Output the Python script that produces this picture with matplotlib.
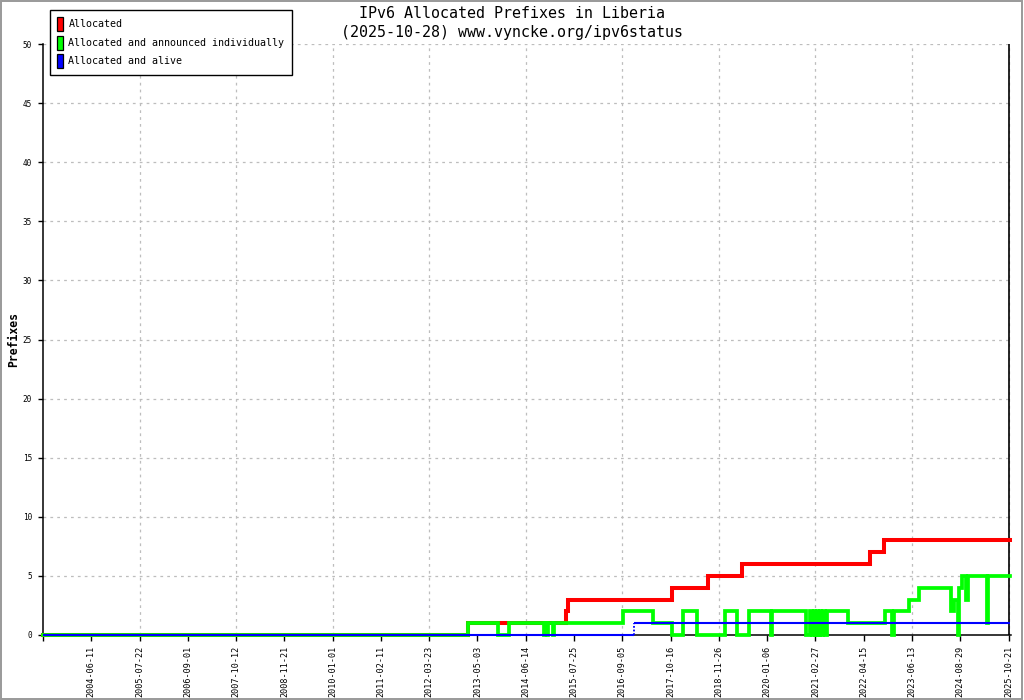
import matplotlib
matplotlib.use("Agg")
import matplotlib.pyplot as plt
from matplotlib.patches import Patch, Rectangle
import numpy as np

# ---- data (x in tick-position units: 0 = first tick, 20 = 2025-10-21) ----
tick_labels = ['', '2004-06-11', '2005-07-22', '2006-09-01', '2007-10-12', '2008-11-21',
               '2010-01-01', '2011-02-11', '2012-03-23', '2013-05-03', '2014-06-14',
               '2015-07-25', '2016-09-05', '2017-10-16', '2018-11-26', '2020-01-06',
               '2021-02-27', '2022-04-15', '2023-06-13', '2024-08-29', '2025-10-21']

alloc_x = [0, 8.804, 10.834, 10.865, 13.030, 13.775, 14.480, 17.131, 17.431, 20.03]
alloc_y = [0, 1, 2, 3, 4, 5, 6, 7, 8, 8]

announced_x = [0, 8.804, 9.431, 9.659, 10.384, 10.405, 10.430, 10.451, 10.558, 10.579,
               12.015, 12.636, 13.030, 13.257, 13.547, 14.127, 14.376, 14.625, 15.070, 15.095,
               15.795, 15.898, 15.930, 15.961, 16.002, 16.033, 16.064, 16.095, 16.126, 16.157,
               16.199, 16.230, 16.665, 17.442, 17.597, 17.628, 17.939, 18.146, 18.803, 18.871,
               18.954, 18.975, 19.037, 19.120, 19.161, 19.555, 19.575, 20.03]
announced_y = [0, 1, 0, 1, 0, 1, 0, 1, 0, 1,
               2, 1, 0, 2, 0, 2, 0, 2, 0, 2,
               0, 2, 0, 2, 0, 2, 0, 2, 0, 2,
               0, 2, 1, 2, 0, 2, 3, 4, 2, 3,
               0, 4, 5, 3, 5, 1, 5, 5]

alive_x = [0, 12.233, 20.03]
alive_y = [0, 1, 1]

legend_labels = ['Allocated', 'Allocated and announced individually', 'Allocated and alive']
colors = ['#ff0000', '#00ff00', '#0000ff']

title1 = 'IPv6 Allocated Prefixes in Liberia'
title2 = '(2025-10-28) www.vyncke.org/ipv6status'

MONO = 'DejaVu Sans Mono'

W, H = 1024, 700
fig = plt.figure(figsize=(W / 100, H / 100), dpi=100)
fig.patch.set_facecolor('white')

# axes placement (pixels)
x0_px, x20_px, y0_px, y50_px = 43, 1008.5, 635, 44
xmax = 20.05
ppu = (x20_px - x0_px) / 20
ax = fig.add_axes([x0_px / W, 1 - y0_px / H, xmax * ppu / W, (y0_px - y50_px) / H])
ax.set_xlim(0, xmax)
ax.set_ylim(0, 50)
ax.set_facecolor('white')

for s in ['top', 'right']:
    ax.spines[s].set_visible(False)
for s in ['left', 'bottom']:
    ax.spines[s].set_color('black')
    ax.spines[s].set_linewidth(1.1)

# grid
gridkw = dict(color='#bdbdbd', linewidth=0.9, linestyle=(0, (2.2, 3.3)), zorder=0.5)
yt = np.arange(0, 55, 5)
for v in yt[1:]:
    ax.axhline(v, xmin=0, xmax=20 / xmax, **gridkw)
for k in range(2, 21, 2):
    ax.axvline(k, **gridkw)
ax.axvline(20, color='black', linewidth=1.2, zorder=0.6)

# ticks
ax.set_yticks(yt)
ax.set_yticklabels([str(v) for v in yt], fontfamily=MONO, fontsize=5.6)
ax.tick_params(axis='y', direction='out', length=3.8, width=1, pad=4.2, colors='black')
ax.set_xticks(np.arange(0, 21))
ax.set_xticklabels(tick_labels, rotation=90, fontfamily=MONO, fontsize=6.1, va='top', ha='center')
ax.tick_params(axis='x', direction='out', length=4.5, width=1, pad=3, colors='black')

ax.set_ylabel('Prefixes', fontfamily=MONO, fontsize=8.3, fontweight='bold')
ax.yaxis.set_label_coords(-(x0_px - 20.5) / (xmax * ppu), 0.5)

# data
ax.step(alloc_x, alloc_y, where='post', color=colors[0], linewidth=2.9, zorder=3,
        clip_on=False, solid_joinstyle='miter')
ax.step(announced_x, announced_y, where='post', color=colors[1], linewidth=2.7, zorder=4,
        clip_on=False, solid_joinstyle='miter')
ax.hlines(alive_y[:-1], alive_x[:-1], alive_x[1:], color=colors[2], linewidth=1.5, zorder=5,
          clip_on=False)
ax.vlines(alive_x[1], alive_y[0], alive_y[1], color=colors[2], linewidth=1.3,
          linestyles=(0, (1, 1)), zorder=5, clip_on=False)

# titles
fig.text(512 / W, 1 - 13 / H, title1, ha='center', va='center', fontfamily=MONO, fontsize=10.8)
fig.text(512 / W, 1 - 32 / H, title2, ha='center', va='center', fontfamily=MONO, fontsize=10.8)

# legend
handles = [Patch(facecolor=c, edgecolor='black', linewidth=0.9) for c in colors]
leg = fig.legend(handles, legend_labels, loc='upper left',
                 bbox_to_anchor=(50 / W, 1 - 10 / H), bbox_transform=fig.transFigure,
                 borderaxespad=0, prop={'family': MONO, 'size': 7.2},
                 handlelength=0.6, handleheight=1.78, handletextpad=0.55,
                 labelspacing=0.45, borderpad=0.7, fancybox=False, frameon=True,
                 framealpha=1, edgecolor='black')
leg.get_frame().set_linewidth(1.0)

# outer border
fig.patches.append(Rectangle((0.5 / W, 1.5 / H), (W - 2.5) / W, (H - 2.5) / H,
                             transform=fig.transFigure, fill=False,
                             edgecolor='#999999', linewidth=1.4))

fig.savefig('out.png', dpi=100, facecolor='white')
